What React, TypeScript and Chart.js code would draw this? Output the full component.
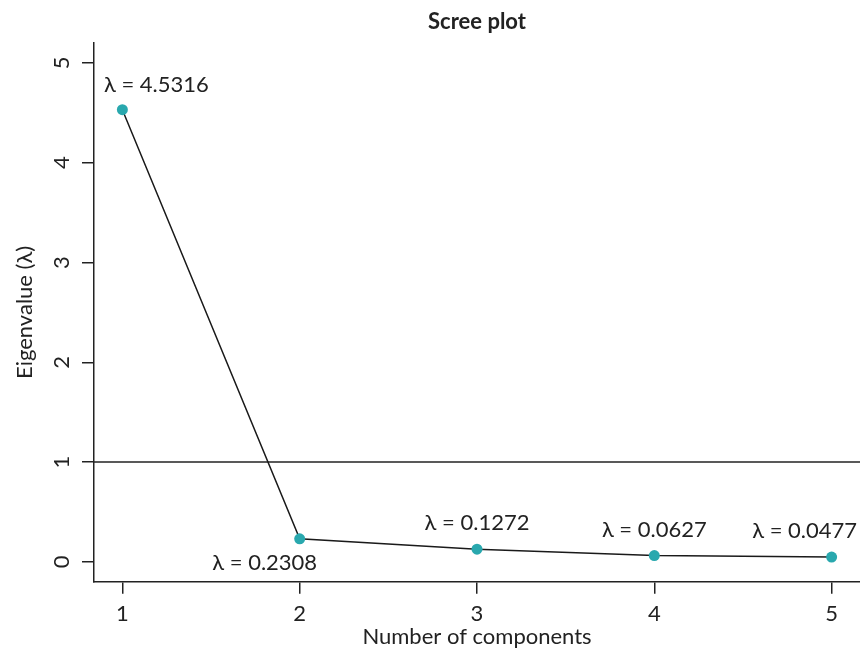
import React, { useEffect, useRef } from "react";
import { Chart, registerables } from "chart.js";

Chart.register(...registerables);

// Principal components and their eigenvalues
const COMPONENTS = [1, 2, 3, 4, 5];
const EIGENVALUES = [4.5316, 0.2308, 0.1272, 0.0627, 0.0477];
const Y_TICKS = [0, 1, 2, 3, 4, 5];
const Y_LIMITS = [0, 5];
const KAISER_CUTOFF = 1;

// Label placement relative to each point (pixels)
const LABEL_DX = [34, -35, 0, 0, -27];
const LABEL_DY = [-25, 24, -26, -26, -26];

const FONT = "Lato, 'Open Sans', sans-serif";
const INK = "#222222";
const TEAL = "#29a8ae";

// R-style 4% axis extension
const extend = (lo: number, hi: number) => {
  const pad = (hi - lo) * 0.04;
  return [lo - pad, hi + pad];
};

export default function App() {
  const canvasRef = useRef<HTMLCanvasElement | null>(null);

  useEffect(() => {
    const canvas = canvasRef.current;
    if (!canvas) return;
    const [xMin, xMax] = extend(COMPONENTS[0], COMPONENTS[COMPONENTS.length - 1]);
    const [yMin, yMax] = extend(Y_LIMITS[0], Y_LIMITS[1]);

    const screeAnnotations = {
      id: "screeAnnotations",
      beforeDatasetsDraw(chart: any) {
        const { ctx, chartArea, scales } = chart;
        const y = scales.y.getPixelForValue(KAISER_CUTOFF);
        ctx.save();
        ctx.strokeStyle = INK;
        ctx.lineWidth = 1.5;
        ctx.beginPath();
        ctx.moveTo(chartArea.left, y);
        ctx.lineTo(chartArea.right, y);
        ctx.stroke();
        ctx.restore();
      },
      afterDatasetsDraw(chart: any) {
        const { ctx, chartArea, scales } = chart;
        ctx.save();
        ctx.fillStyle = INK;
        // rotated y tick labels
        ctx.font = `22px ${FONT}`;
        ctx.textAlign = "center";
        ctx.textBaseline = "middle";
        Y_TICKS.forEach((v) => {
          const py = scales.y.getPixelForValue(v);
          ctx.save();
          ctx.translate(chartArea.left - 32, py);
          ctx.rotate(-Math.PI / 2);
          ctx.fillText(String(v), 0, 0);
          ctx.restore();
        });
        // eigenvalue labels
        ctx.font = `22px ${FONT}`;
        COMPONENTS.forEach((c, i) => {
          const px = scales.x.getPixelForValue(c);
          const py = scales.y.getPixelForValue(EIGENVALUES[i]);
          ctx.fillText(`λ = ${EIGENVALUES[i].toFixed(4)}`, px + LABEL_DX[i], py + LABEL_DY[i]);
        });
        ctx.restore();
      },
    };

    const chart = new Chart(canvas, {
      type: "line",
      data: {
        datasets: [
          {
            data: COMPONENTS.map((c, i) => ({ x: c, y: EIGENVALUES[i] })),
            borderColor: "#1a1a1a",
            borderWidth: 1.5,
            pointBackgroundColor: TEAL,
            pointBorderWidth: 0,
            pointRadius: 5.5,
            tension: 0,
          },
        ],
      },
      options: {
        animation: false,
        responsive: false,
        devicePixelRatio: 1,
        layout: { autoPadding: false, padding: { left: 0, right: 0, top: 0, bottom: 0 } },
        plugins: {
          legend: { display: false },
          tooltip: { enabled: false },
          title: {
            display: true,
            fullSize: false,
            text: "Scree plot",
            color: INK,
            font: { family: FONT, size: 22, weight: "bold", lineHeight: 1.2 },
            padding: { top: 9, bottom: 7.6 },
          },
        },
        scales: {
          x: {
            type: "linear",
            min: xMin,
            max: xMax,
            afterBuildTicks: (scale: any) => {
              scale.ticks = COMPONENTS.map((v) => ({ value: v }));
            },
            grid: { drawOnChartArea: false, drawTicks: true, tickLength: 12, color: INK, lineWidth: 1.5 },
            border: { display: true, color: INK, width: 1.5 },
            ticks: {
              color: INK,
              font: { family: FONT, size: 22, lineHeight: 1 },
              padding: 9,
              callback: (v: any) => String(v),
            },
            title: {
              display: true,
              text: "Number of components",
              color: INK,
              font: { family: FONT, size: 22, lineHeight: 1.2 },
              padding: { top: -10, bottom: 2.8 },
            },
          },
          y: {
            type: "linear",
            min: yMin,
            max: yMax,
            afterBuildTicks: (scale: any) => {
              scale.ticks = Y_TICKS.map((v) => ({ value: v }));
            },
            grid: { drawOnChartArea: false, drawTicks: true, tickLength: 12, color: INK, lineWidth: 1.5 },
            border: { display: true, color: INK, width: 1.5 },
            ticks: { display: false },
            title: {
              display: true,
              text: "Eigenvalue (λ)",
              color: INK,
              font: { family: FONT, size: 22, lineHeight: 1.2 },
              padding: { top: 11.8, bottom: 43.8 },
            },
          },
        },
      },
      plugins: [screeAnnotations],
    } as any);

    return () => chart.destroy();
  }, []);

  return (
    <div style={{ position: "fixed", left: 0, top: 0, width: 860, height: 653, background: "#ffffff" }}>
      <canvas ref={canvasRef} width={860} height={653} />
    </div>
  );
}
